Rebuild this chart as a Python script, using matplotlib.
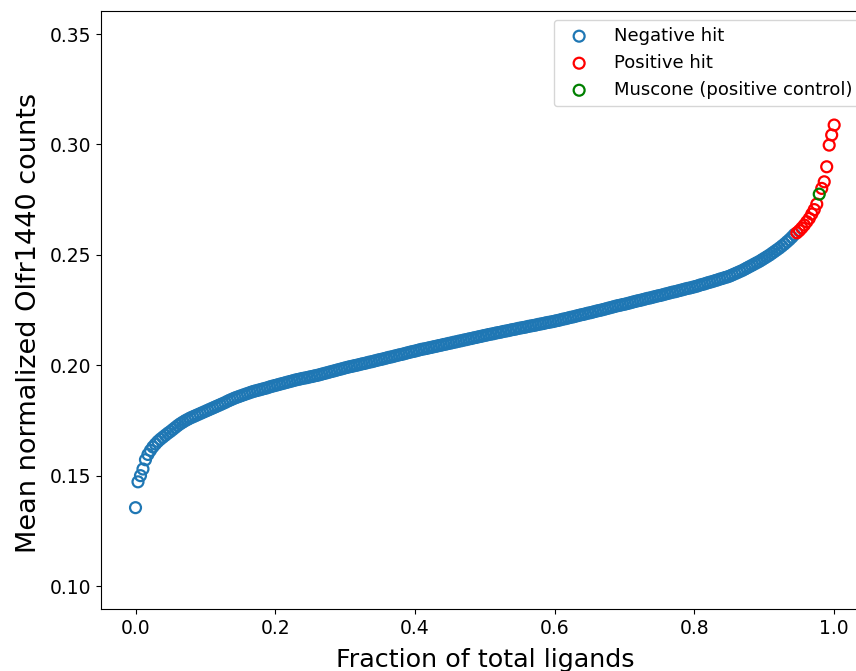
import numpy as np
import pandas as pd
import matplotlib
matplotlib.use('Agg')
import matplotlib.pyplot as plt

# Mean normalized counts (sorted, one value per ligand)
neg_values = [
    0.1355, 0.1472, 0.1500, 0.1530, 0.1572, 0.1596, 0.1614, 0.1630, 0.1643, 0.1655,
    0.1665, 0.1674, 0.1683, 0.1692, 0.1700, 0.1709, 0.1718, 0.1727, 0.1735, 0.1742,
    0.1749, 0.1755, 0.1761, 0.1766, 0.1771, 0.1776, 0.1781, 0.1786, 0.1791, 0.1796,
    0.1801, 0.1806, 0.1811, 0.1816, 0.1821, 0.1826, 0.1831, 0.1837, 0.1842, 0.1847,
    0.1852, 0.1856, 0.1860, 0.1864, 0.1868, 0.1872, 0.1876, 0.1880, 0.1883, 0.1886,
    0.1889, 0.1892, 0.1895, 0.1898, 0.1902, 0.1905, 0.1908, 0.1911, 0.1914, 0.1917,
    0.1920, 0.1923, 0.1926, 0.1929, 0.1932, 0.1935, 0.1937, 0.1940, 0.1942, 0.1944,
    0.1947, 0.1949, 0.1952, 0.1954, 0.1957, 0.1960, 0.1963, 0.1966, 0.1969, 0.1972,
    0.1975, 0.1978, 0.1981, 0.1984, 0.1987, 0.1990, 0.1993, 0.1995, 0.1998, 0.2000,
    0.2003, 0.2006, 0.2008, 0.2011, 0.2014, 0.2016, 0.2019, 0.2022, 0.2025, 0.2027,
    0.2030, 0.2033, 0.2036, 0.2038, 0.2041, 0.2044, 0.2047, 0.2049, 0.2052, 0.2055,
    0.2058, 0.2061, 0.2063, 0.2066, 0.2069, 0.2072, 0.2074, 0.2076, 0.2079, 0.2081,
    0.2084, 0.2086, 0.2089, 0.2091, 0.2094, 0.2096, 0.2099, 0.2101, 0.2104, 0.2106,
    0.2109, 0.2111, 0.2114, 0.2116, 0.2119, 0.2121, 0.2124, 0.2126, 0.2129, 0.2131,
    0.2134, 0.2136, 0.2139, 0.2141, 0.2143, 0.2146, 0.2148, 0.2150, 0.2153, 0.2155,
    0.2157, 0.2160, 0.2162, 0.2164, 0.2167, 0.2169, 0.2171, 0.2173, 0.2176, 0.2178,
    0.2180, 0.2182, 0.2185, 0.2187, 0.2189, 0.2192, 0.2194, 0.2196, 0.2198, 0.2201,
    0.2203, 0.2206, 0.2209, 0.2211, 0.2214, 0.2217, 0.2219, 0.2222, 0.2225, 0.2228,
    0.2230, 0.2233, 0.2236, 0.2238, 0.2241, 0.2244, 0.2247, 0.2249, 0.2252, 0.2255,
    0.2258, 0.2261, 0.2264, 0.2267, 0.2270, 0.2272, 0.2275, 0.2277, 0.2280, 0.2283,
    0.2286, 0.2289, 0.2292, 0.2294, 0.2297, 0.2300, 0.2303, 0.2305, 0.2308, 0.2311,
    0.2314, 0.2316, 0.2319, 0.2322, 0.2325, 0.2328, 0.2331, 0.2333, 0.2336, 0.2339,
    0.2342, 0.2345, 0.2348, 0.2350, 0.2353, 0.2356, 0.2359, 0.2363, 0.2366, 0.2369,
    0.2373, 0.2376, 0.2379, 0.2383, 0.2386, 0.2390, 0.2393, 0.2397, 0.2400, 0.2404,
    0.2409, 0.2414, 0.2419, 0.2424, 0.2429, 0.2435, 0.2441, 0.2447, 0.2453, 0.2459,
    0.2465, 0.2471, 0.2478, 0.2485, 0.2492, 0.2499, 0.2507, 0.2515, 0.2523, 0.2531,
    0.2540, 0.2549, 0.2559, 0.2569, 0.2580, 0.2592,
]
pos_values = [
    0.2600, 0.2610, 0.2622, 0.2635, 0.2650, 0.2665, 0.2685, 0.2705, 0.2730,
    0.2801, 0.2831, 0.2899, 0.2997, 0.3043, 0.3088,
]
muscone_values = [0.2775]

# Build ranked table: fraction of total ligands = rank / (n - 1)
df = pd.DataFrame({
    'value': neg_values + pos_values + muscone_values,
    'group': ['neg'] * len(neg_values) + ['pos'] * len(pos_values) + ['musc'] * len(muscone_values),
})
df = df.sort_values('value').reset_index(drop=True)
df['fraction'] = df.index / (len(df) - 1)

fig = plt.figure(figsize=(8.56, 6.71), dpi=100)
ax = fig.add_axes([0.1175, 0.0924, 0.8978, 0.8917])

groups = [('neg', '#1f77b4', 'Negative hit'),
          ('pos', 'red', 'Positive hit'),
          ('musc', 'green', 'Muscone (positive control)')]
for key, color, label in groups:
    sub = df[df['group'] == key]
    ax.scatter(sub['fraction'], sub['value'], s=62, facecolors='none',
               edgecolors=color, linewidths=1.6, label=label)

ax.set_xlim(-0.05, 1.05)
ax.set_ylim(0.0896, 0.3606)
ax.set_xticks([0.0, 0.2, 0.4, 0.6, 0.8, 1.0])
ax.set_yticks([0.10, 0.15, 0.20, 0.25, 0.30, 0.35])
ax.tick_params(labelsize=13.5)
ax.set_xlabel('Fraction of total ligands', fontsize=18.3, labelpad=7.5)
ax.set_ylabel('Mean normalized Olfr1440 counts', fontsize=19.5, labelpad=5.5)
ax.yaxis.label.set_y(0.478)
ax.legend(loc='upper right', fontsize=13, handletextpad=0.95)

fig.savefig('out.png', dpi=100)
